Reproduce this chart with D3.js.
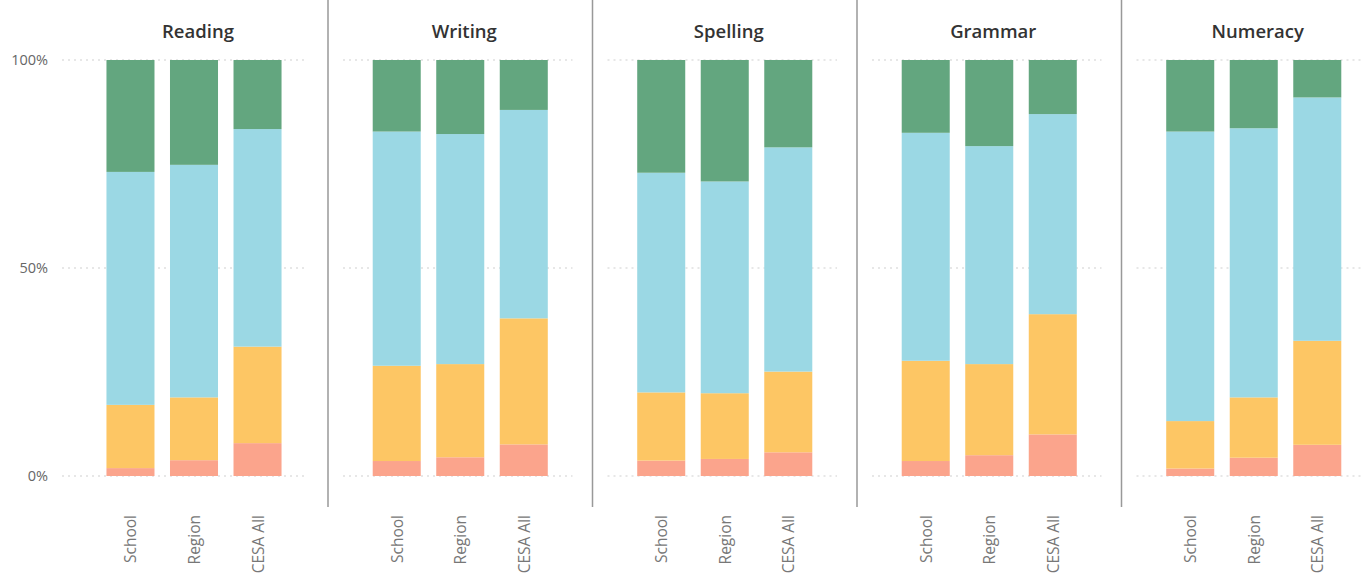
<!DOCTYPE html>
<html>
<head>
<meta charset="utf-8">
<script src="https://cdn.jsdelivr.net/npm/d3@7"></script>
<style>
  body { margin: 0; background: #fff; }
  svg text { font-family: "Open Sans", "Noto Sans", sans-serif; }
</style>
</head>
<body>
<div id="chart"></div>
<script>
// subjects and groups
const subjects = ["Reading", "Writing", "Spelling", "Grammar", "Numeracy"];
const groups = ["School", "Region", "CESA All"];
const bands = ["low", "basic", "proficient", "advanced"];
const bandColors = ["#FBA48C", "#FDC664", "#9BD8E4", "#63A67F"];

// share of students (%) per band, bottom to top, one row per group
const lowPct = [
  [1.9, 3.8, 7.9],
  [3.6, 4.5, 7.6],
  [3.7, 4.1, 5.7],
  [3.6, 5.0, 10.0],
  [1.8, 4.4, 7.5]
];
const basicPct = [
  [15.2, 15.1, 23.2],
  [22.9, 22.4, 30.3],
  [16.4, 15.8, 19.4],
  [24.1, 21.9, 28.9],
  [11.4, 14.5, 25.0]
];
const proficientPct = [
  [56.0, 55.9, 52.3],
  [56.3, 55.3, 50.1],
  [52.8, 50.9, 53.9],
  [54.8, 52.4, 48.1],
  [69.6, 64.7, 58.5]
];
const advancedPct = [
  [26.9, 25.2, 16.6],
  [17.2, 17.8, 12.0],
  [27.1, 29.2, 21.0],
  [17.5, 20.7, 13.0],
  [17.2, 16.4, 9.0]
];
const yTicks = [0, 50, 100];

const width = 1363, height = 582;
const svg = d3.select("#chart").append("svg")
  .attr("width", width)
  .attr("height", height);

const y = d3.scaleLinear().domain([0, 100]).range([476, 60]);

const panelW = 264.5;
const panelStart = i => i === 0 ? 62 : 328 + (i - 1) * panelW;
const panelEnd = i => 328 + i * panelW;

// y axis labels
svg.append("g").selectAll("text")
  .data(yTicks)
  .join("text")
  .attr("x", 48)
  .attr("y", d => y(d))
  .attr("dy", "0.35em")
  .attr("text-anchor", "end")
  .attr("fill", "#666")
  .attr("font-size", 14.5)
  .text(d => d + "%");

subjects.forEach((subj, i) => {
  const x0 = panelStart(i), x1 = panelEnd(i);
  const mid = i === 0 ? 194 : (x0 + x1) / 2;
  const x = d3.scaleBand()
    .domain(groups)
    .range([mid - 132, mid + 132])
    .paddingInner(0.244)
    .paddingOuter(0.7);

  const g = svg.append("g");

  // dotted gridlines
  g.selectAll("line.grid")
    .data(yTicks)
    .join("line")
    .attr("class", "grid")
    .attr("x1", i === 0 ? x0 : x0 + 15)
    .attr("x2", i === 4 ? width : x1 - 20)
    .attr("y1", d => y(d))
    .attr("y2", d => y(d))
    .attr("stroke", "#cfcfcf")
    .attr("stroke-width", 1.2)
    .attr("stroke-dasharray", "2,4");

  // stacked bars
  const rows = groups.map((grp, j) => ({
    group: grp,
    low: lowPct[i][j],
    basic: basicPct[i][j],
    proficient: proficientPct[i][j],
    advanced: advancedPct[i][j]
  }));
  const stacked = d3.stack().keys(bands)(rows);

  g.selectAll("g.layer")
    .data(stacked)
    .join("g")
    .attr("class", "layer")
    .attr("fill", (d, k) => bandColors[k])
    .selectAll("rect")
    .data(d => d)
    .join("rect")
    .attr("x", d => x(d.data.group))
    .attr("width", x.bandwidth())
    .attr("y", d => y(d[1]))
    .attr("height", d => y(d[0]) - y(d[1]));

  // title
  g.append("text")
    .attr("x", mid + 4)
    .attr("y", 38)
    .attr("text-anchor", "middle")
    .attr("fill", "#333")
    .attr("font-size", 18.5)
    .attr("font-weight", 600)
    .text(subj);

  // x labels, rotated
  g.selectAll("text.xl")
    .data(groups)
    .join("text")
    .attr("class", "xl")
    .attr("transform", d => `translate(${x(d) + x.bandwidth() / 2 + 6},515) rotate(-90)`)
    .attr("text-anchor", "end")
    .attr("fill", "#777")
    .attr("font-size", 15.5)
    .text(d => d);

  // panel divider
  if (i < subjects.length - 1) {
    svg.append("line")
      .attr("x1", x1).attr("x2", x1)
      .attr("y1", 0).attr("y2", 507)
      .attr("stroke", "#999")
      .attr("stroke-width", 1.5);
  }
});
</script>
</body>
</html>
